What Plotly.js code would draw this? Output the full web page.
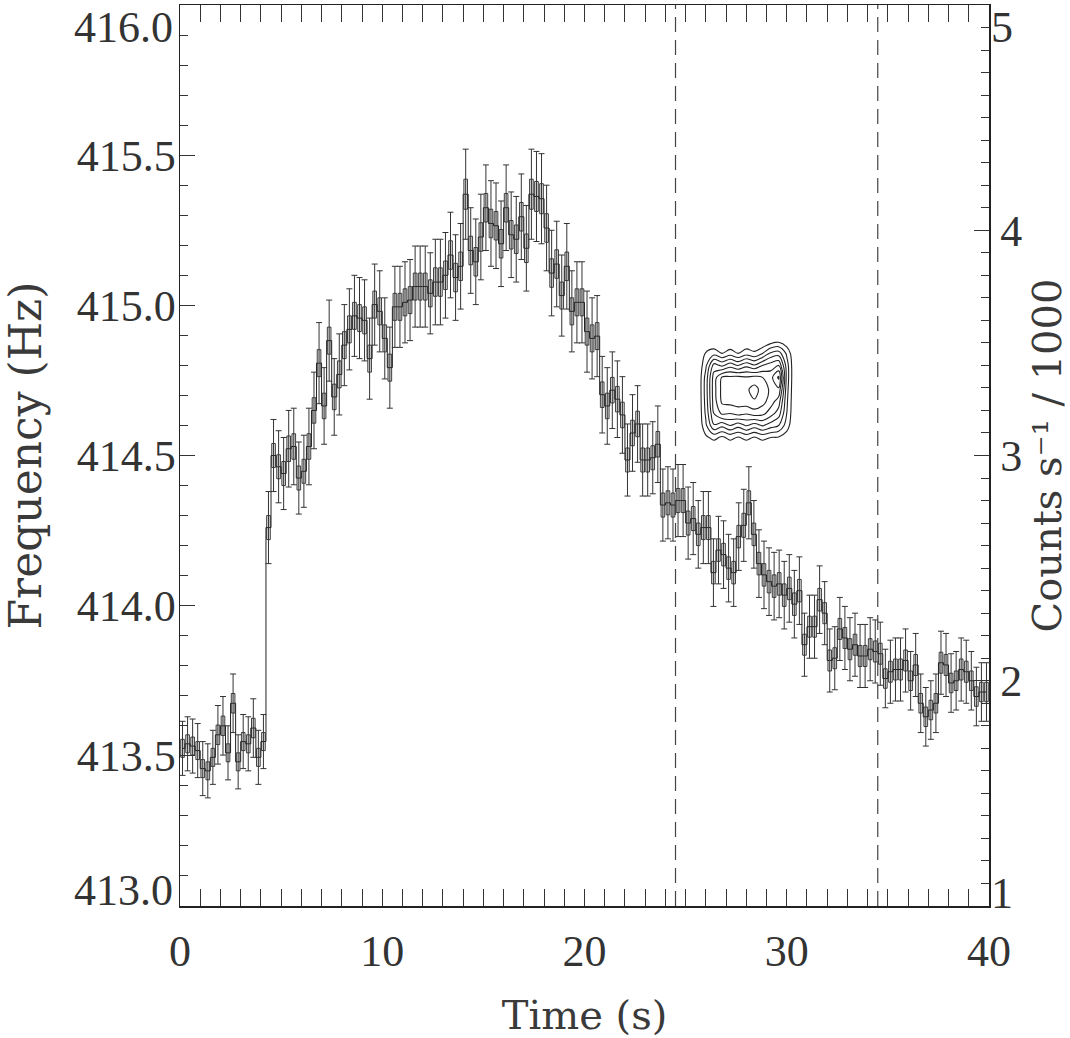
<!DOCTYPE html>
<html>
<head>
<meta charset="utf-8">
<script src="https://cdn.plot.ly/plotly-3.0.1.min.js"></script>
<style>html,body{margin:0;padding:0;background:#fff;}#chart{width:1070px;height:1038px;}</style>
</head>
<body>
<div id="chart"></div>
<script>
// Light curve: count rate (counts s^-1 / 1000) in 0.25 s bins starting at t = 0
const binWidth = 0.25;
const t0 = 0;
const rate = [
  1.70,1.72,1.71,1.69,1.61,1.60,1.66,1.76,1.80,1.68,1.90,1.64,1.73,1.72,1.79,1.66,1.73,
  2.68,3.00,2.95,2.92,3.03,3.04,2.90,2.93,3.04,3.20,3.41,3.22,3.51,3.26,3.36,3.49,3.56,3.62,3.61,3.60,
  3.43,3.67,3.64,3.52,3.39,3.66,3.66,3.68,3.69,3.75,3.75,3.75,3.72,3.77,3.77,3.80,3.89,3.79,
  3.84,4.16,3.91,3.86,3.97,4.10,4.03,4.02,3.94,4.10,3.98,3.96,4.06,3.92,4.16,4.15,4.14,4.01,3.81,3.85,
  3.71,3.84,3.64,3.68,3.68,3.55,3.52,3.53,
  3.27,3.22,3.29,3.25,3.18,2.98,3.10,3.14,2.98,2.98,2.99,3.05,2.78,2.79,2.78,2.80,2.80,2.70,2.72,2.65,
  2.68,2.68,2.48,2.58,2.56,2.50,2.48,2.64,2.69,2.79,2.65,2.52,2.47,2.44,
  2.42,2.43,2.38,2.41,2.34,2.40,2.16,2.24,2.24,2.36,2.30,2.09,2.10,2.23,2.19,2.14,2.16,2.11,2.11,2.14,
  2.13,2.12,2.01,2.04,2.05,2.05,2.09,2.00,2.07,1.90,1.84,1.87,1.90,2.08,2.07,1.99,2.00,2.05,2.04,2.00,
  1.93,1.95,1.95
];
const rateErr = [
  0.12,0.12,0.12,0.12,0.12,0.12,0.12,0.13,0.13,0.12,0.13,0.12,0.12,0.12,0.13,0.12,0.12,
  0.16,0.16,0.16,0.16,0.17,0.17,0.16,0.16,0.17,0.17,0.18,0.17,0.18,0.17,0.18,0.18,0.18,0.18,0.18,0.18,
  0.18,0.18,0.18,0.18,0.18,0.18,0.18,0.18,0.18,0.18,0.18,0.18,0.18,0.19,0.19,0.19,0.19,0.19,
  0.19,0.20,0.19,0.19,0.19,0.19,0.19,0.19,0.19,0.19,0.19,0.19,0.19,0.19,0.20,0.20,0.20,0.19,0.19,0.19,
  0.18,0.19,0.18,0.18,0.18,0.18,0.18,0.18,
  0.17,0.17,0.17,0.17,0.17,0.16,0.17,0.17,0.16,0.16,0.16,0.17,0.16,0.16,0.16,0.16,0.16,0.16,0.16,0.15,
  0.16,0.16,0.15,0.15,0.15,0.15,0.15,0.15,0.16,0.16,0.15,0.15,0.15,0.15,
  0.15,0.15,0.15,0.15,0.15,0.15,0.14,0.14,0.14,0.15,0.14,0.14,0.14,0.14,0.14,0.14,0.14,0.14,0.14,0.14,
  0.14,0.14,0.13,0.14,0.14,0.14,0.14,0.13,0.14,0.13,0.13,0.13,0.13,0.14,0.14,0.13,0.13,0.14,0.14,0.13,
  0.13,0.13,0.13
];

// Dynamic power spectrum contours (frequency vs time)
const contourT = [25.6, 26.0, 26.4, 26.8, 27.2, 27.6, 28.0, 28.4, 28.8, 29.2, 29.6, 30.0, 30.4];
const contourF = [414.52, 414.56, 414.60, 414.64, 414.68, 414.72, 414.76, 414.80, 414.84, 414.88];
const contourZ = [
  [0, 0,   0,   0,   0,   0,   0,   0,   0,   0,   0,   0,   0],
  [0, 0.8, 1.3, 0.8, 1.3, 0.9, 1.3, 0.9, 1.3, 1.0, 0.9, 0.5, 0],
  [0, 1.8, 3.9, 3.3, 4.0, 3.4, 4.1, 3.5, 4.1, 3.5, 3.0, 1.5, 0],
  [0, 2.2, 5.0, 6.2, 6.0, 6.4, 6.1, 6.5, 6.3, 5.5, 4.5, 2.0, 0],
  [0, 2.4, 5.5, 7.2, 7.4, 7.5, 7.6, 7.9, 7.4, 6.5, 5.5, 2.2, 0],
  [0, 2.5, 5.6, 7.3, 7.5, 7.6, 7.8, 8.4, 7.6, 6.8, 6.8, 2.4, 0],
  [0, 2.4, 5.5, 7.1, 7.2, 7.3, 7.1, 7.3, 7.0, 6.6, 8.2, 2.6, 0],
  [0, 1.8, 4.4, 3.8, 4.6, 3.9, 4.7, 4.1, 5.0, 5.5, 6.0, 2.5, 0],
  [0, 1.1, 1.6, 1.0, 1.5, 1.0, 1.6, 1.2, 2.0, 3.2, 3.5, 1.8, 0],
  [0, 0,   0,   0,   0,   0,   0,   0,   0,   0.5, 0.8, 0.3, 0]
];

// Times of the dashed markers (s)
const markerTimes = [24.5, 34.5];

// Axis tick labels
const freqTicks = [413.5, 414.0, 414.5, 415.0, 415.5];
const freqEnds = [413.0, 416.0];
const rateTicks = [2, 3, 4];
const rateEnds = [1, 5];

const timeS = rate.map((_, i) => t0 + binWidth * (i + 0.5));
const boxHeight = rateErr.map(e => 2 * e / 3);
const boxBase = rate.map((v, i) => v - rateErr[i] / 3);

const ink = '#222';
const tickFont = {family: 'Liberation Serif, serif', size: 44, color: '#333'};
const titleFont = {family: 'DejaVu Serif, serif', size: 40, color: '#3a3a3a'};
const leftTitleFont = {family: 'DejaVu Serif, serif', size: 44, color: '#3a3a3a'};

const traces = [
  {
    type: 'scatter', mode: 'lines', x: timeS, y: rate, yaxis: 'y2',
    line: {shape: 'hvh', color: ink, width: 1}, hoverinfo: 'skip'
  },
  {
    type: 'scatter', mode: 'markers', x: timeS, y: rate, yaxis: 'y2',
    marker: {size: 1, color: 'rgba(0,0,0,0)'},
    error_y: {type: 'data', array: rateErr, visible: true, color: '#333', thickness: 1, width: 3},
    hoverinfo: 'skip'
  },
  {
    type: 'bar', x: timeS, y: boxHeight, base: boxBase, yaxis: 'y2', width: 0.18,
    marker: {color: '#e4e4e4', line: {color: '#2a2a2a', width: 0.9}}, hoverinfo: 'skip'
  },
  {
    type: 'contour', x: contourT, y: contourF, z: contourZ, xaxis: 'x', yaxis: 'y',
    contours: {start: 1, end: 8, size: 1, coloring: 'none'},
    line: {color: ink, width: 1.1, smoothing: 1.0},
    showscale: false, hoverinfo: 'skip'
  }
];

const shapes = markerTimes.map(t => ({
  type: 'line', xref: 'x', yref: 'paper', x0: t, x1: t, y0: 0, y1: 1,
  line: {color: '#444', width: 1.2, dash: '15px,8px'}
}));

const annotations = [
  ...freqEnds.map((v, i) => ({
    xref: 'paper', x: 0, xanchor: 'right', xshift: -6,
    yref: 'y', y: v, yanchor: 'middle', yshift: i === 0 ? 16 : -22,
    text: v.toFixed(1), showarrow: false, font: tickFont, borderpad: 0
  })),
  ...rateEnds.map((v, i) => ({
    xref: 'paper', x: 1, xanchor: 'left', xshift: 1,
    yref: 'y2', y: v, yanchor: 'middle', yshift: i === 0 ? 13 : -22,
    text: String(v), showarrow: false, font: tickFont, borderpad: 0
  }))
];

const layout = {
  width: 1070, height: 1038,
  margin: {l: 180, r: 81, t: 5, b: 132},
  paper_bgcolor: '#fff', plot_bgcolor: '#fff',
  showlegend: false, hovermode: false,
  xaxis: {
    range: [0, 40], dtick: 10, tick0: 0,
    ticks: 'inside', ticklen: 17, tickwidth: 1, tickcolor: '#333',
    minor: {dtick: 1, ticks: 'inside', ticklen: 9, tickcolor: '#333', tickwidth: 1},
    showline: true, linecolor: ink, linewidth: 1.5, mirror: 'allticks',
    showgrid: false, zeroline: false,
    tickfont: tickFont, ticklabelstandoff: 6,
    title: {text: 'Time (s)', font: titleFont, standoff: 40}
  },
  yaxis: {
    range: [413, 416], tickmode: 'array', tickvals: freqTicks, ticktext: freqTicks.map(v => v.toFixed(1)),
    ticks: 'inside', ticklen: 15, tickwidth: 1, tickcolor: '#333',
    minor: {tick0: 413, dtick: 0.1, ticks: 'inside', ticklen: 8, tickcolor: '#333', tickwidth: 1},
    showline: true, linecolor: ink, linewidth: 1.5, mirror: false,
    showgrid: false, zeroline: false,
    tickfont: tickFont, ticklabelstandoff: -6,
    title: {text: 'Frequency (Hz)', font: leftTitleFont, standoff: 28}
  },
  yaxis2: {
    overlaying: 'y', side: 'right', anchor: 'x',
    range: [1, 5], tickmode: 'array', tickvals: rateTicks, ticktext: rateTicks.map(String),
    ticks: 'inside', ticklen: 15, tickwidth: 1, tickcolor: '#333',
    minor: {tick0: 1, dtick: 0.1, ticks: 'inside', ticklen: 8, tickcolor: '#333', tickwidth: 1},
    showline: true, linecolor: ink, linewidth: 1.5,
    showgrid: false, zeroline: false,
    tickfont: tickFont, ticklabelstandoff: 1,
    title: {text: 'Counts s⁻¹ / 1000', font: titleFont, standoff: 14}
  },
  shapes: shapes,
  annotations: annotations
};

Plotly.newPlot('chart', traces, layout, {staticPlot: true, displayModeBar: false});
</script>
</body>
</html>
